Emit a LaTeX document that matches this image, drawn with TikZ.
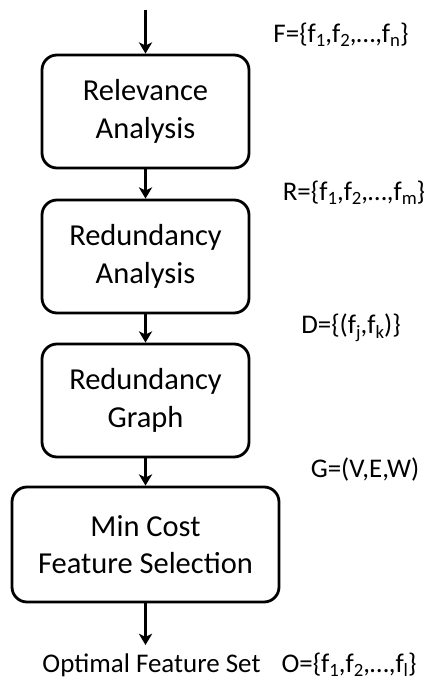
\documentclass[tikz,border=0pt]{standalone}
\usepackage{fontspec}
\usetikzlibrary{arrows.meta}
\setmainfont{Carlito}
\newcommand{\subidx}[1]{\raisebox{-0.35ex}{\fontsize{16}{16}\selectfont #1}}
\begin{document}
\begin{tikzpicture}[x=0.03cm,y=-0.03cm]

	\tikzstyle{stage}=[draw,rectangle,rounded corners=0.45cm,line width=2.4pt,align=center,text centered,font=\fontsize{26}{32}\selectfont,minimum width=6.21cm,minimum height=3.39cm]
	\tikzstyle{setlabel}=[font=\fontsize{23}{27}\selectfont,inner sep=0pt]
	\tikzset{flow/.style={->,line width=2.4pt,>={Stealth[length=0.34cm,width=0.4cm,inset=0.1cm]}}}

	\useasboundingbox (0,0) rectangle (426,683);

	\coordinate (in) at (145.5,10);
	\node[stage] (rel) at (145.5,111.5) {Relevance\\Analysis};
	\node[stage] (red) at (145.5,256.5) {Redundancy\\Analysis};
	\node[stage] (grf) at (145.5,400.5) {Redundancy\\Graph};
	\node[stage,minimum width=8.01cm,minimum height=3.45cm] (sel) at (145.5,544.5) {Min Cost\\Feature Selection};
	\coordinate (out) at (145.5,645);

	\draw[flow] (in) -- (rel);
	\draw[flow] (rel) -- (red);
	\draw[flow] (red) -- (grf);
	\draw[flow] (grf) -- (sel);
	\draw[flow] (sel) -- (out);

	% sets passed between the stages
	\node[setlabel] (fset) at (341,35) {F=\{f\subidx{1},f\subidx{2},…,f\subidx{n}\}};
	\node[setlabel] (rset) at (354,193) {R=\{f\subidx{1},f\subidx{2},…,f\subidx{m}\}};
	\node[setlabel] (dset) at (351,328) {D=\{(f\subidx{j},f\subidx{k})\}};
	\node[setlabel] (gset) at (365,470) {G=(V,E,W)};
	\node[setlabel] (opt) at (151.5,665) {Optimal Feature Set};
	\node[setlabel] (oset) at (349,665) {O=\{f\subidx{1},f\subidx{2},…,f\subidx{l}\}};

\end{tikzpicture}
\end{document}
